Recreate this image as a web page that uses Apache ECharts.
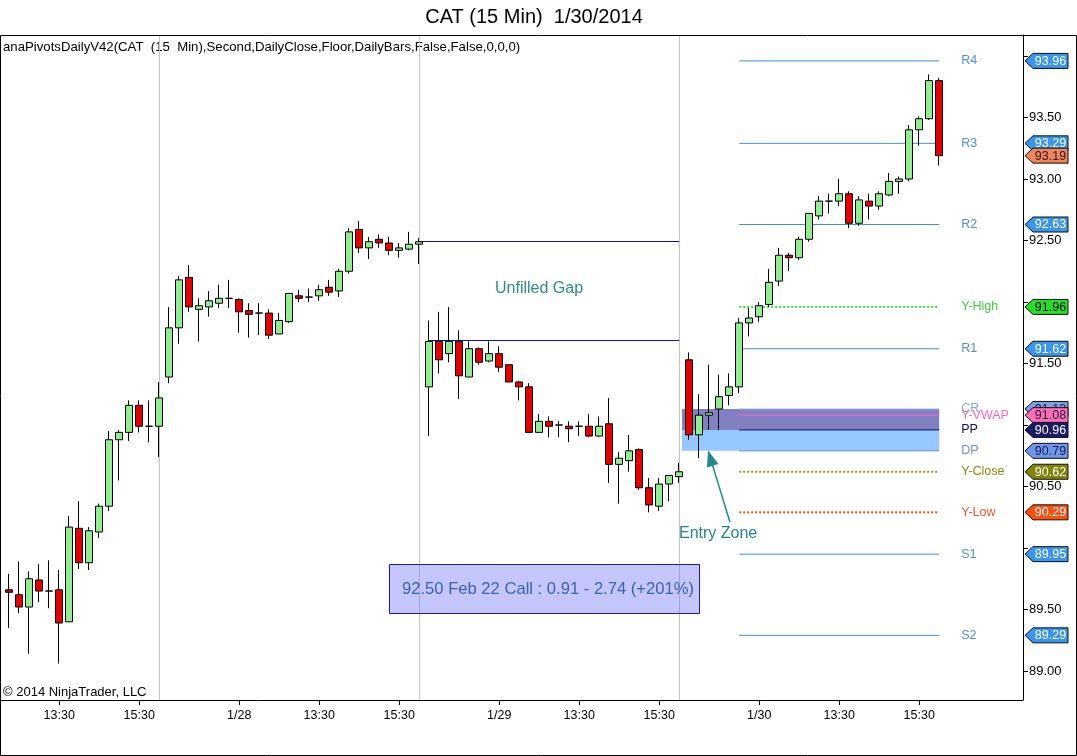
<!DOCTYPE html>
<html><head><meta charset="utf-8">
<script src="https://cdn.jsdelivr.net/npm/echarts@6/dist/echarts.min.js"></script>
<style>html,body{margin:0;padding:0;background:#fff}#c{width:1077px;height:756px}</style>
</head><body><div id="c"></div>
<script>
// ---- data ----
const barOpen  = [89.66,89.62,89.52,89.74,89.65,89.66,89.40,90.16,89.88,90.13,90.34,90.88,90.94,91.16,90.99,90.99,
  91.39,91.79,92.20,91.94,91.96,91.99,92.03,92.02,91.93,91.91,91.91,91.74,91.84,92.05,92.04,92.05,92.12,92.09,92.25,92.59,92.44,92.51,92.48,92.42,92.43,92.47,
  91.31,91.68,91.58,91.68,91.39,91.62,91.52,91.58,91.49,91.35,91.31,90.94,91.03,91.00,90.99,90.99,90.99,90.91,91.01,90.68,90.71,90.80,90.49,90.34,90.52,90.58,
  91.53,90.92,91.08,91.13,91.24,91.31,91.83,91.88,91.98,92.17,92.38,92.36,92.51,92.70,92.82,92.82,92.88,92.64,92.82,92.78,92.87,92.98,93.00,93.40,93.49,93.80];
const barClose = [89.64,89.52,89.75,89.65,89.65,89.39,90.17,89.88,90.14,90.34,90.88,90.94,91.16,90.99,90.99,91.22,
  91.79,92.18,91.96,91.97,92.01,92.03,92.03,91.92,91.90,91.91,91.73,91.85,92.07,92.03,92.04,92.10,92.08,92.25,92.57,92.44,92.49,92.48,92.42,92.44,92.47,92.49,
  91.68,91.53,91.68,91.40,91.62,91.51,91.58,91.47,91.35,91.31,90.94,91.03,90.99,91.00,90.97,90.99,90.91,90.99,90.68,90.73,90.79,90.49,90.35,90.52,90.59,90.62,
  90.92,91.08,91.10,91.23,91.31,91.83,91.87,91.97,92.16,92.38,92.36,92.51,92.72,92.82,92.82,92.88,92.64,92.83,92.78,92.88,92.98,93.00,93.40,93.49,93.80,93.19];
const barLow   = [89.35,89.47,89.14,89.56,89.51,89.06,89.40,89.83,89.82,90.08,90.30,90.55,90.87,90.94,90.86,90.74,
  91.34,91.66,91.92,91.68,91.88,91.95,91.95,91.75,91.71,91.73,91.70,91.74,91.83,92.00,92.00,92.01,92.05,92.04,92.23,92.40,92.35,92.44,92.38,92.36,92.42,92.31,
  90.91,91.42,91.51,91.21,91.39,91.49,91.51,91.43,91.35,91.20,90.94,90.94,90.90,90.90,90.86,90.91,90.90,90.90,90.53,90.36,90.62,90.47,90.29,90.30,90.38,90.53,
  90.88,90.73,90.96,90.96,91.16,91.26,91.72,91.84,91.96,92.13,92.25,92.34,92.49,92.67,92.72,92.78,92.60,92.62,92.67,92.75,92.86,92.88,92.98,93.27,93.48,93.11];
const barHigh  = [89.79,89.89,89.81,89.87,89.90,89.82,90.26,90.38,90.17,90.36,90.95,90.96,91.20,91.20,91.20,91.35,
  91.96,92.21,92.30,92.03,92.09,92.14,92.18,92.03,91.99,91.99,91.94,91.91,92.07,92.10,92.11,92.14,92.18,92.27,92.60,92.66,92.53,92.55,92.53,92.48,92.57,92.52,
  91.85,91.92,91.96,91.77,91.68,91.63,91.68,91.64,91.49,91.36,91.34,91.09,91.07,91.03,91.03,91.03,91.09,91.07,91.22,90.78,90.92,90.81,90.57,90.57,90.59,90.69,
  91.59,91.25,91.49,91.41,91.42,91.87,91.95,92.00,92.27,92.44,92.40,92.53,92.72,92.86,92.88,93.00,92.90,92.86,92.88,92.90,93.05,93.02,93.44,93.51,93.85,93.82];

const xTickBars   = [5,13,23,31,39,49,57,65,75,83,91];
const xTickLabels = ['13:30','15:30','1/28','13:30','15:30','1/29','13:30','15:30','1/30','13:30','15:30'];
const yTickValues  = [89.0,89.5,90.0,90.5,91.0,91.5,92.0,92.5,93.0,93.5,94.0];
const yLabelValues = [89.0,89.5,90.5,91.5,92.5,93.0,93.5];
const sessionBreakBars = [15,41,67];

const pivotNames  = ['R4','R3','R2','Y-High','R1','CR','Y-VWAP','PP','DP','Y-Close','Y-Low','S1','S2'];
const pivotValues = [93.96,93.29,92.63,91.96,91.62,91.13,91.08,90.96,90.79,90.62,90.29,89.95,89.29];
const lastPrice = 93.19;
const pivotStartBar = 73, pivotEndBar = 93;
const entryZoneStartBar = 67.28;
const gapLevels = [92.49, 91.69];
const gapStartBars = [41, 42];
const gapEndBar = 67;
const arrowTail = [72.08, 90.21];
const arrowTip  = [70.12, 90.73];

// ---- styles ----
const FONT = "'Liberation Sans', Arial, sans-serif";
const RS = '#3f8fdf', RSL = '#4b93d8';
const pivotLineColor  = [RS,RS,RS,'#2ee02e',RS,'#93aee6','#ff5fc8','#14145a','#5a86e0','#9a9a1a','#ff4a12',RS,RS];
const pivotLineType   = ['solid','solid','solid',[2,2],'solid','solid','solid','solid','solid',[2,2],[2,2],'solid','solid'];
const pivotLineWidth  = [1,1,1,2,1,1,1,1,1,2,2,1,1];
const pivotLabelColor = [RSL,RSL,RSL,'#3ccc3c','#4b93d8','#8fa6e0','#ff69b4','#101040','#6d8fe0','#8b8b10','#e8562a',RSL,RSL];
const flagFill = ['#3896f0','#3896f0','#3896f0','#22e022','#3896f0','#7f9fe0','#ff6eb4','#1a1a6a','#6f96ea','#84840a','#ff4d0d','#3896f0','#3896f0'];
const flagText = ['#fff','#fff','#fff','#000','#fff','#1a1a50','#1a1a40','#fff','#1a1a50','#fff','#fff','#fff','#fff'];
const lastFlagFill = '#f2845c', lastFlagText = '#2a1a10';

const yMin = 93 - (700-179)/123, yMax = 93 + (179-35)/123;
const xMin = (1-9.2)/10, xMax = (1023-9.2)/10;

const chart = echarts.init(document.getElementById('c'), null, {renderer:'canvas'});

const candleData = barOpen.map((o,k)=>[k,o,barClose[k],barLow[k],barHigh[k]]);
const flagData = pivotValues.map((v,i)=>[pivotEndBar, v, i]).concat([[pivotEndBar, lastPrice, -1]]);

const pivotSeries = pivotNames.map((n,i)=>({
  type:'line', name:n, z:2, silent:true, symbol:'none', animation:false,
  data:[[pivotStartBar,pivotValues[i]],[pivotEndBar,pivotValues[i]]],
  lineStyle:{color:pivotLineColor[i], width:pivotLineWidth[i], type:pivotLineType[i]}
}));

const option = {
  animation:false,
  backgroundColor:'#fff',
  grid:{left:1, right:54, top:35, bottom:56, show:false},
  xAxis:{type:'value', min:xMin, max:xMax, position:'bottom',
    splitLine:{show:false},
    axisLine:{show:true, onZero:false, lineStyle:{color:'#000', width:1}},
    axisTick:{show:true, length:5, inside:false, customValues:xTickBars, lineStyle:{color:'#000'}},
    axisLabel:{customValues:xTickBars, formatter:v=>xTickLabels[xTickBars.indexOf(Math.round(v))], color:'#000', fontSize:12.5, fontFamily:FONT, margin:9}},
  yAxis:{type:'value', position:'right', min:yMin, max:yMax,
    splitLine:{show:false},
    axisLine:{show:true, onZero:false, lineStyle:{color:'#000', width:1}},
    axisTick:{show:true, length:5, inside:false, customValues:yTickValues, lineStyle:{color:'#000'}},
    axisLabel:{customValues:yLabelValues, formatter:v=>v.toFixed(2), color:'#000', fontSize:13, fontFamily:FONT, margin:6}},
  graphic:[
    {type:'rect', z:100, silent:true, shape:{x:0.5,y:35.5,width:1076,height:720}, style:{fill:'none', stroke:'#000', lineWidth:1}},
    {type:'text', silent:true, style:{x:534, y:17, text:'CAT (15 Min)  1/30/2014', font:'20px '+FONT, fill:'#000', align:'center', verticalAlign:'middle', textAlign:'center', textVerticalAlign:'middle'}},
    {type:'text', silent:true, style:{x:3, y:47, text:'anaPivotsDailyV42(CAT  (15  Min),Second,DailyClose,Floor,DailyBars,False,False,0,0,0)', font:'13.2px '+FONT, fill:'#000', verticalAlign:'middle', textVerticalAlign:'middle'}},
    {type:'text', silent:true, style:{x:3, y:692, text:'\u00a9 2014 NinjaTrader, LLC', font:'13px '+FONT, fill:'#000', verticalAlign:'middle', textVerticalAlign:'middle'}},
    {type:'text', silent:true, style:{x:495, y:289, text:'Unfilled Gap', font:'16px '+FONT, fill:'#2a8c8c', verticalAlign:'middle', textVerticalAlign:'middle'}},
    {type:'text', silent:true, style:{x:679, y:534, text:'Entry Zone', font:'16px '+FONT, fill:'#1f8585', verticalAlign:'middle', textVerticalAlign:'middle'}},
    {type:'rect', z:50, silent:true, shape:{x:389.5,y:564.5,width:310,height:49}, style:{fill:'rgba(120,120,255,0.42)', stroke:'#1c1ca0', lineWidth:1}},
    {type:'text', z:51, silent:true, style:{x:548, y:589, text:'92.50 Feb 22 Call : 0.91 - 2.74 (+201%)', font:'16.6px '+FONT, fill:'#3a62ae', align:'center', verticalAlign:'middle', textAlign:'center', textVerticalAlign:'middle'}}
  ],
  series:[
    {type:'line', data:[], silent:true, z:1, symbol:'none',
      markArea:{silent:true, z:1, data:[
        [{coord:[entryZoneStartBar, pivotValues[5]], itemStyle:{color:'#8080c2', opacity:1, borderWidth:0}}, {coord:[pivotEndBar, pivotValues[7]]}],
        [{coord:[entryZoneStartBar, pivotValues[7]], itemStyle:{color:'#96c8ff', opacity:1, borderWidth:0}}, {coord:[pivotEndBar, pivotValues[8]]}]
      ]},
      markLine:{silent:true, z:1, symbol:['none','none'], label:{show:false}, animation:false,
        lineStyle:{color:'#c4c4c4', width:1, type:'solid'},
        data: sessionBreakBars.map(b=>({xAxis:b}))
      }
    },
    {type:'line', data:[], silent:true, z:1, symbol:'none',
      markLine:{silent:true, z:2, symbol:['none','none'], label:{show:false}, animation:false,
        lineStyle:{color:'#1010a8', width:1, type:'solid', opacity:1},
        data: gapLevels.map((g,i)=>[{coord:[gapStartBars[i], g]}, {coord:[gapEndBar, g]}])
      }
    },
    ...pivotSeries,
    {type:'candlestick', z:3, silent:true, barWidth:7, data:candleData, encode:{x:0, y:[1,2,3,4]},
      itemStyle:{color:'#90ee90', color0:'#e60000', borderColor:'#000', borderColor0:'#000', borderColorDoji:'#000', borderWidth:1}},
    {type:'line', data:[], silent:true, z:5, symbol:'none',
      markLine:{silent:true, z:6, label:{show:false}, animation:false,
        lineStyle:{color:'#1f8a8a', width:1.5, type:'solid'},
        data:[[{coord:arrowTail, symbol:'none'}, {coord:arrowTip, symbol:'triangle', symbolSize:[12,16]}]]}
    },
    {type:'custom', z:8, silent:true, clip:false, data:flagData, encode:{x:0, y:1},
      renderItem:function(params, api){
        const i = api.value(2), v = api.value(1);
        const p = api.coord([pivotEndBar, v]);
        const cs = params.coordSys;
        const ax = cs.x + cs.width;
        const y = p[1];
        const ch = [];
        const isLast = i < 0;
        if (!isLast) {
          ch.push({type:'text', style:{text:pivotNames[i], x:p[0]+22, y:y, fill:pivotLabelColor[i], font:'12.5px '+FONT, align:'left', verticalAlign:'middle'}});
        }
        ch.push({type:'polygon', shape:{points:[[ax+2,y],[ax+10,y-7.5],[ax+45,y-7.5],[ax+45,y+7.5],[ax+10,y+7.5]]},
          style:{fill: isLast?lastFlagFill:flagFill[i], stroke:'#111', lineWidth:1}});
        ch.push({type:'text', style:{text:v.toFixed(2), x:ax+27.5, y:y+0.5, fill: isLast?lastFlagText:flagText[i], font:'12.5px '+FONT, align:'center', verticalAlign:'middle'}});
        return {type:'group', children:ch};
      }
    }
  ]
};
chart.setOption(option);
</script></body></html>
